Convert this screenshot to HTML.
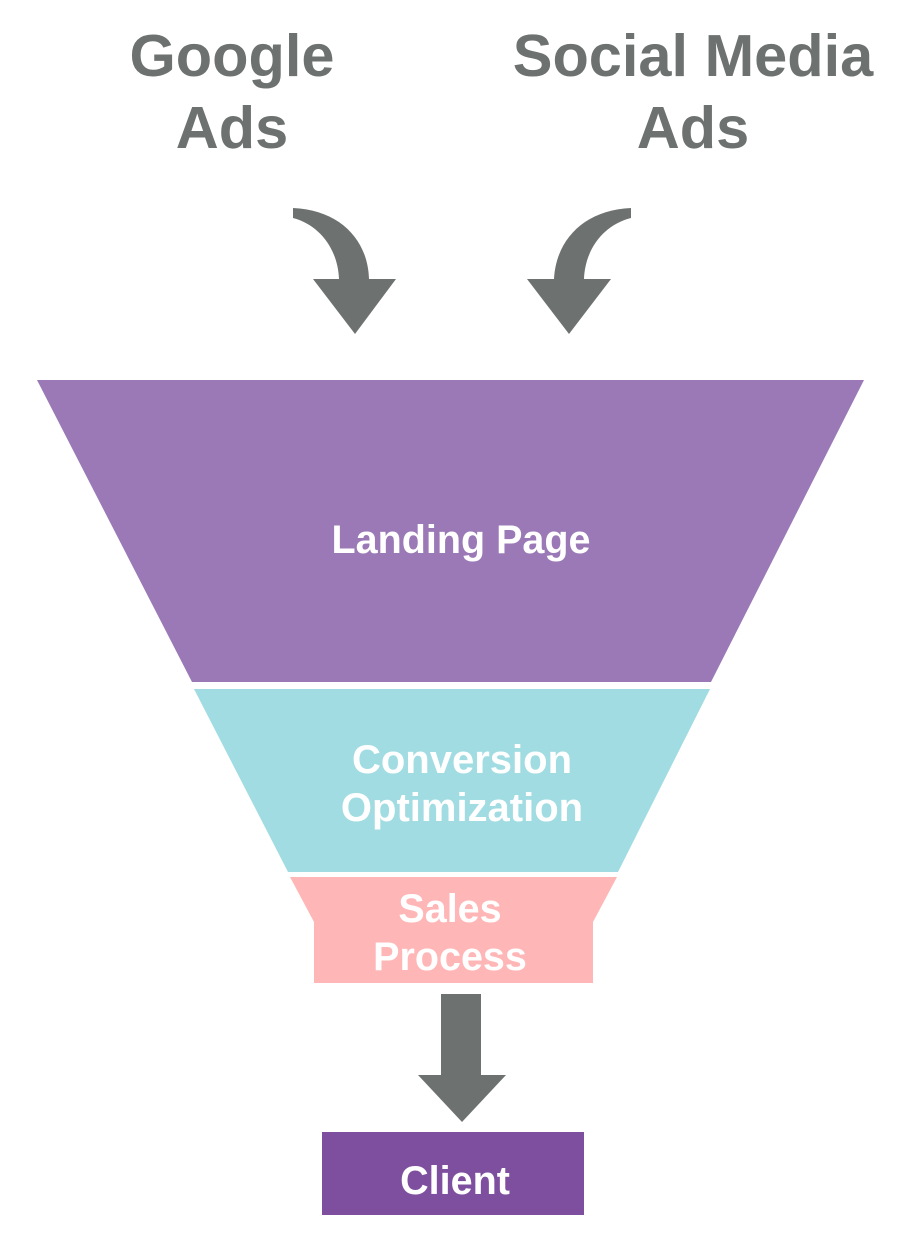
<!DOCTYPE html>
<html><head><style>body{margin:0;background:#fff}svg{display:block}text{font-family:"Liberation Sans",Arial,sans-serif;font-weight:bold;text-anchor:middle}</style></head><body>
<svg width="906" height="1254" viewBox="0 0 906 1254">
<g fill="#6d7270" font-size="59.5">
<text x="232" y="76">Google</text><text x="232" y="148">Ads</text>
<text x="693" y="76">Social Media</text><text x="693" y="148">Ads</text>
</g>
<g fill="#6d7270">
<path d="M293 208 C340 210 368 240 369 279 L396 279 L355 334 L313 279 L339 279 C338 250 320 225 293 218 Z"/>
<path d="M631 208 C584 210 556 240 554 279 L527 279 L569 334 L611 279 L584 279 C585 250 603 225 631 218 Z"/>
<path d="M441 994 H481 V1075 H506 L462 1122 L418 1075 H441 Z"/>
</g>
<polygon points="37,380 864,380 711,682 192,682" fill="#9b79b6"/>
<polygon points="194,689 710,689 618,872 288,872" fill="#a0dce2"/>
<polygon points="290,877 617,877 593,922 593,983 314,983 314,922" fill="#ffb6b6"/>
<rect x="322" y="1132" width="262" height="83" fill="#7f4f9f"/>
<g fill="#fff">
<text x="461" y="553" font-size="39.5">Landing Page</text>
<text x="462" y="773" font-size="40">Conversion</text><text x="462" y="821" font-size="40">Optimization</text>
<text x="450" y="922" font-size="39.5">Sales</text><text x="450" y="970" font-size="39.5">Process</text>
<text x="455" y="1194" font-size="39.5">Client</text>
</g>
</svg>
</body></html>
